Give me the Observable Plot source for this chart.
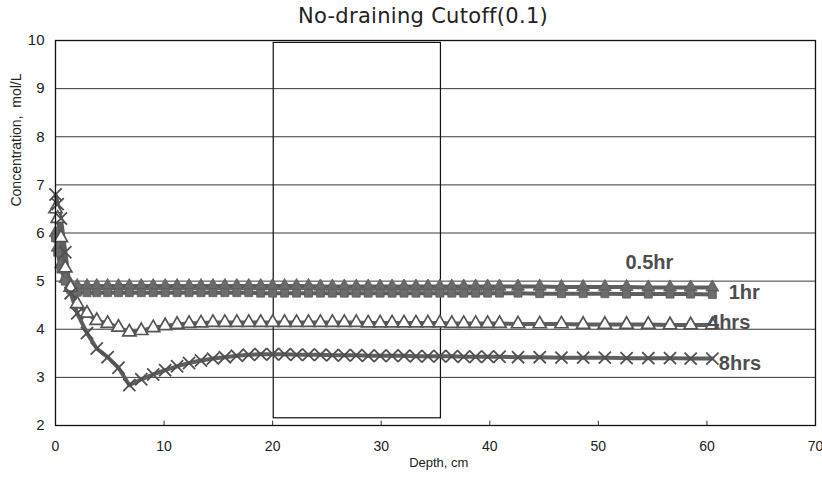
<!DOCTYPE html>
<html><head><meta charset="utf-8">
<script src="https://cdn.jsdelivr.net/npm/d3@7"></script>
<script src="https://cdn.jsdelivr.net/npm/@observablehq/plot@0.6"></script>
<style>
body{margin:0;background:#fff;}
#wrap{width:822px;height:479px;position:relative;overflow:hidden;}
#title{height:30px;line-height:33px;text-align:center;font-family:"DejaVu Sans",sans-serif;font-size:21px;color:#222;padding-left:24px;box-sizing:border-box;letter-spacing:0.3px;}
</style></head><body>
<div id="wrap"><div id="title">No-draining Cutoff(0.1)</div><div id="chart"></div></div>
<script>
const depth = [0, 0.2, 0.5, 0.9, 1.4, 2, 2.9, 3.8, 4.8, 5.8, 6.8,
  7.9, 9, 10.1, 11.2, 12.3, 13.4, 14.5, 15.6, 16.7, 17.8, 18.9, 20, 21.1, 22.2, 23.3, 24.4, 25.5, 26.6, 27.7,
  28.8, 29.9, 31, 32.1, 33.2, 34.3, 35.4, 36.5, 37.6, 38.7, 39.8, 40.9,
  42.6, 44.6, 46.6, 48.6, 50.6, 52.6, 54.6, 56.6, 58.5, 60.5];
const c05 = [6.0, 5.7, 5.35, 5.05, 4.93, 4.9, 4.9, 4.9, 4.9, 4.9, 4.9,
  4.9, 4.9, 4.9, 4.9, 4.9, 4.9, 4.9, 4.9, 4.9, 4.9, 4.9, 4.9, 4.9, 4.9, 4.9, 4.89, 4.89, 4.89, 4.89,
  4.89, 4.89, 4.89, 4.89, 4.89, 4.89, 4.89, 4.89, 4.89, 4.89, 4.89, 4.89,
  4.89, 4.89, 4.88, 4.88, 4.88, 4.88, 4.87, 4.87, 4.87, 4.87];
const c1 = [5.9, 5.6, 5.25, 5.0, 4.82, 4.77, 4.76, 4.76, 4.76, 4.76, 4.76,
  4.76, 4.76, 4.76, 4.76, 4.76, 4.76, 4.76, 4.76, 4.76, 4.76, 4.75, 4.75, 4.75, 4.75, 4.75, 4.75, 4.75, 4.75, 4.75,
  4.75, 4.75, 4.75, 4.75, 4.75, 4.75, 4.75, 4.75, 4.75, 4.75, 4.75, 4.75,
  4.75, 4.74, 4.74, 4.74, 4.74, 4.73, 4.73, 4.73, 4.73, 4.72];
const c4 = [6.5, 6.3, 5.9, 5.27, 4.87, 4.53, 4.33, 4.18, 4.12, 4.04, 3.94,
  3.97, 4.03, 4.07, 4.1, 4.12, 4.13, 4.14, 4.14, 4.14, 4.14, 4.14, 4.14, 4.14, 4.14, 4.14, 4.14, 4.14, 4.14, 4.14,
  4.13, 4.13, 4.13, 4.13, 4.13, 4.13, 4.13, 4.12, 4.12, 4.12, 4.12, 4.12,
  4.11, 4.11, 4.11, 4.1, 4.1, 4.1, 4.1, 4.09, 4.09, 4.09];
const c8 = [6.8, 6.6, 6.3, 5.6, 4.75, 4.33, 3.92, 3.6, 3.42, 3.2, 2.84,
  2.96, 3.06, 3.15, 3.23, 3.3, 3.35, 3.39, 3.42, 3.45, 3.47, 3.48, 3.48, 3.48, 3.47, 3.47, 3.47, 3.46, 3.46, 3.46,
  3.45, 3.45, 3.45, 3.45, 3.44, 3.44, 3.44, 3.44, 3.43, 3.43, 3.43, 3.43,
  3.42, 3.42, 3.41, 3.41, 3.41, 3.4, 3.4, 3.4, 3.39, 3.39];
const seriesNames = ["0.5hr", "1hr", "4hrs", "8hrs"];
const labelX = [52.5, 62.0, 60.1, 61.1];
const labelY = [5.39, 4.76, 4.14, 3.29];
const xTicks = [0, 10, 20, 30, 40, 50, 60, 70];
const yTicks = [2, 3, 4, 5, 6, 7, 8, 9, 10];
const gridY = [3, 4, 5, 6, 7, 8, 9];
const boxX = [20.1, 35.5];
const boxY = [2.15, 9.95];

const seriesVals = [c05, c1, c4, c8];
const rows = [];
seriesVals.forEach((vals, si) => vals.forEach((v, i) => rows.push({series: seriesNames[si], depth: depth[i], value: v})));
const of = s => rows.filter(r => r.series === s);
const labels = seriesNames.map((s, i) => ({name: s, x: labelX[i], y: labelY[i]}));

const lineColor = "#5e5e5e";
const chart = Plot.plot({
  width: 822, height: 449,
  marginLeft: 55, marginRight: 7, marginTop: 10, marginBottom: 54,
  style: {fontFamily: "'Liberation Sans', Arial, sans-serif", fontSize: "14px", color: "#222", background: "#fff"},
  x: {domain: [0, 70], ticks: xTicks},
  y: {domain: [2, 10], ticks: yTicks},
  marks: [
    Plot.ruleY(gridY, {stroke: "#3a3a3a", strokeWidth: 1}),
    Plot.rect([{x1: boxX[0], x2: boxX[1], y1: boxY[0], y2: boxY[1]}], {x1: "x1", x2: "x2", y1: "y1", y2: "y2", fill: "none", stroke: "#111", strokeWidth: 1.2}),
    Plot.ruleX(xTicks, {y1: 2, y2: 2.09, stroke: "#333"}),
    Plot.line(rows, {x: "depth", y: "value", z: "series", stroke: lineColor, strokeWidth: 4, curve: "linear"}),
    Plot.dot(of("0.5hr"), {x: "depth", y: "value", symbol: "triangle", r: 4.8, fill: "#6a6a6a", stroke: "#5a5a5a", strokeWidth: 0.8}),
    Plot.dot(of("1hr"), {x: "depth", y: "value", symbol: "square", r: 4.5, fill: "#6c6c6c", stroke: "#5a5a5a", strokeWidth: 0.8}),
    Plot.dot(of("4hrs"), {x: "depth", y: "value", symbol: "triangle", r: 4.9, fill: "#fff", stroke: "#555", strokeWidth: 1.7}),
    Plot.dot(of("8hrs"), {x: "depth", y: "value", symbol: "times", r: 5.6, stroke: "#505050", strokeWidth: 1.8}),
    Plot.frame({stroke: "#111", strokeWidth: 1.3}),
    Plot.axisX({ticks: xTicks, tickSize: 0, tickPadding: 16, label: null, fontSize: 14}),
    Plot.axisY({ticks: yTicks, tickSize: 0, tickPadding: 11, label: null, fontSize: 15}),
    Plot.text(labels, {x: "x", y: "y", text: "name", textAnchor: "start", fontSize: 20, fontWeight: "bold", fill: "#4e4e4e", fontFamily: "'Liberation Sans', Arial, sans-serif"}),
    Plot.text(["Depth, cm"], {x: 35.3, frameAnchor: "bottom", dy: 41, text: d => d, fontSize: 13, fill: "#222"}),
    Plot.text(["Concentration,  mol/L"], {y: 6.55, frameAnchor: "left", dx: -39, rotate: -90, text: d => d, fontSize: 14, fill: "#222"})
  ]
});
document.getElementById("chart").appendChild(chart);
</script>
</body></html>
